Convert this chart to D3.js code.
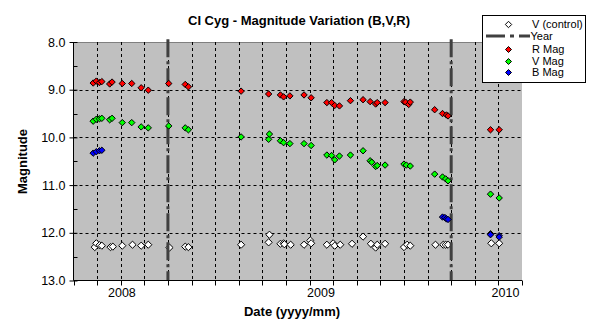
<!DOCTYPE html>
<html><head><meta charset="utf-8">
<script src="https://cdn.jsdelivr.net/npm/d3@7"></script>
<style>
body{margin:0;background:#fff;}
text{font-family:"Liberation Sans",Arial,sans-serif;}
</style></head>
<body><svg id="c" width="598" height="327"></svg>
<script>
// ---- data (x = days from axis origin, y = magnitude) ----
const rDays = [25,29,33,36,46,49,62,74,86,95,121,142,146,213,248,263,267,275,293,302,322,328,332,338,352,368,377,384,386,396,420,422,426,428,459,469,474,476,530,541];
const rMag  = [8.86,8.82,8.85,8.83,8.88,8.84,8.87,8.87,8.96,9.01,8.87,8.89,8.94,9.03,9.09,9.11,9.15,9.13,9.11,9.17,9.27,9.27,9.33,9.34,9.23,9.21,9.25,9.30,9.27,9.27,9.25,9.26,9.31,9.26,9.42,9.50,9.53,9.55,9.84,9.84];
const vDays = [25,29,33,36,46,49,62,74,86,95,121,142,146,213,248,249,263,267,275,293,302,322,328,332,338,352,368,377,379,384,386,396,420,423,428,459,469,473,476,530,541];
const vMag  = [9.66,9.62,9.61,9.60,9.63,9.60,9.69,9.69,9.78,9.80,9.76,9.80,9.84,9.99,10.04,9.93,10.07,10.11,10.13,10.13,10.17,10.37,10.38,10.47,10.39,10.37,10.28,10.49,10.52,10.61,10.59,10.58,10.56,10.58,10.60,10.77,10.83,10.87,10.91,11.19,11.27];
const bDays = [25,29,33,36,469,472,474,476,530,530,541,541];
const bMag  = [10.33,10.30,10.28,10.27,11.67,11.68,11.71,11.72,12.02,12.04,12.06,12.09];
const cDays = [27,29,33,36,47,50,62,75,86,95,122,142,146,213,248,249,263,267,268,276,293,301,302,322,330,332,339,354,368,378,384,386,396,420,424,428,460,470,473,476,531,541];
const cMag  = [12.30,12.22,12.26,12.27,12.30,12.29,12.27,12.25,12.27,12.25,12.31,12.29,12.30,12.25,12.20,12.04,12.23,12.22,12.24,12.25,12.25,12.16,12.22,12.25,12.22,12.27,12.25,12.23,12.08,12.23,12.31,12.25,12.23,12.30,12.25,12.27,12.25,12.25,12.25,12.25,12.22,12.22];
const yearLineDays = [120,480];
const xLabelDays = [61.5,314.5,549];
const xLabels = ["2008","2009","2010"];
const yTicks = [8,9,10,11,12,13];
const xDomain = [0,570];
const yDomain = [8,13];
const legendItems = ["V (control)","Year","R Mag","V Mag","B Mag"];

// ---- layout ----
const svg = d3.select("#c");
const L = 73.5, R = 522, T = 42, B = 280.5;
const x = d3.scaleLinear().domain(xDomain).range([L,R]);
const y = d3.scaleLinear().domain(yDomain).range([T,B]);

svg.append("rect").attr("x",L).attr("y",T).attr("width",R-L).attr("height",B-T).attr("fill","#c0c0c0");
svg.append("line").attr("x1",L).attr("x2",R).attr("y1",T+0.5).attr("y2",T+0.5).attr("stroke","#808080");

// grid
const xTickVals = d3.range(xDomain[0], xDomain[1]+1, 30);
svg.append("g").selectAll("line").data(xTickVals.filter(d=>d>0 && d<570)).join("line")
  .attr("x1",d=>Math.round(x(d))+0.5).attr("x2",d=>Math.round(x(d))+0.5)
  .attr("y1",T).attr("y2",B).attr("stroke","#000").attr("stroke-dasharray","3,3");
svg.append("g").selectAll("line").data(yTicks.filter(d=>d>8 && d<13)).join("line")
  .attr("x1",L).attr("x2",R).attr("y1",d=>Math.round(y(d))+0.5).attr("y2",d=>Math.round(y(d))+0.5)
  .attr("stroke","#000").attr("stroke-dasharray","3,3");

// diamond marker
const diamond = r => `M0,${-r}L${r},0L0,${r}L${-r},0Z`;
function pts(days, mags, fill, r){
  svg.append("g").selectAll("path").data(days.map((d,i)=>[d,mags[i]])).join("path")
    .attr("d",diamond(r)).attr("transform",d=>`translate(${x(d[0])},${y(d[1])})`)
    .attr("fill",fill).attr("stroke","#000").attr("stroke-width",1);
}
pts(cDays,cMag,"#fff",3.6);

// year lines
svg.append("g").selectAll("line").data(yearLineDays).join("line")
  .attr("x1",d=>x(d)).attr("x2",d=>x(d)).attr("y1",y(7.94)).attr("y2",B)
  .attr("stroke","#404040").attr("stroke-width",3).attr("stroke-dasharray","18,4,3,4");

pts(rDays,rMag,"#ff0000",3.2);
pts(vDays,vMag,"#00ff00",3.2);
pts(bDays,bMag,"#0000ff",3.2);

// axes
const yAxis = d3.axisLeft(y).tickValues(yTicks).tickFormat(d3.format(".1f")).tickSize(4).tickPadding(4);
const gy = svg.append("g").attr("transform",`translate(${L},0)`).call(yAxis);
gy.select(".domain").attr("d",`M0,${T}V${B}`);
gy.selectAll(".tick line").attr("x2",-4).attr("x1",4);
gy.selectAll("text").attr("font-size",12.5).attr("font-family","Liberation Sans, Arial").attr("fill","#000");
svg.append("g").selectAll("line").data(d3.range(8.5,13,1)).join("line")
  .attr("x1",L).attr("x2",L+4).attr("y1",d=>Math.round(y(d))+0.5).attr("y2",d=>Math.round(y(d))+0.5).attr("stroke","#000");

const xAxis = d3.axisBottom(x).tickValues(xTickVals).tickFormat("").tickSize(5);
const gx = svg.append("g").attr("transform",`translate(0,${B})`).call(xAxis);
gx.select(".domain").attr("d",`M${L},0H${R}`);
gx.selectAll(".tick").attr("transform",d=>`translate(${Math.round(x(d))+0.5},0)`);
svg.append("g").selectAll("text").data(xLabels).join("text")
  .attr("x",(d,i)=>x(xLabelDays[i])).attr("y",297).attr("text-anchor","middle")
  .attr("font-size",12.5).text(d=>d);

// titles
svg.append("text").attr("x",299).attr("y",24.5).attr("text-anchor","middle")
  .attr("font-size",13).attr("font-weight","bold").text("CI Cyg - Magnitude Variation (B,V,R)");
svg.append("text").attr("x",292).attr("y",316).attr("text-anchor","middle")
  .attr("font-size",13).attr("font-weight","bold").text("Date (yyyy/mm)");
svg.append("text").attr("transform","translate(27,161.5) rotate(-90)").attr("text-anchor","middle")
  .attr("font-size",13).attr("font-weight","bold").text("Magnitude");

// legend
const lg = svg.append("g");
lg.append("rect").attr("x",482.5).attr("y",15.5).attr("width",103).attr("height",67).attr("fill","#fff").attr("stroke","#000");
const rowY = [24.5,36,49.5,61.5,72.5];
const fills = ["#fff",null,"#ff0000","#00ff00","#0000ff"];
legendItems.forEach((t,i)=>{
  if(fills[i]){
    lg.append("path").attr("d",diamond(i===0?3.2:3)).attr("transform",`translate(508.5,${rowY[i]})`)
      .attr("fill",fills[i]).attr("stroke","#000");
  } else {
    lg.append("line").attr("x1",486).attr("x2",530).attr("y1",rowY[i]).attr("y2",rowY[i])
      .attr("stroke","#404040").attr("stroke-width",3).attr("stroke-dasharray","19,5,4,5");
  }
  lg.append("text").attr("x",i===1?530.5:532).attr("y",rowY[i]).attr("dy","0.35em").attr("font-size",11).text(t);
});
</script></body></html>
